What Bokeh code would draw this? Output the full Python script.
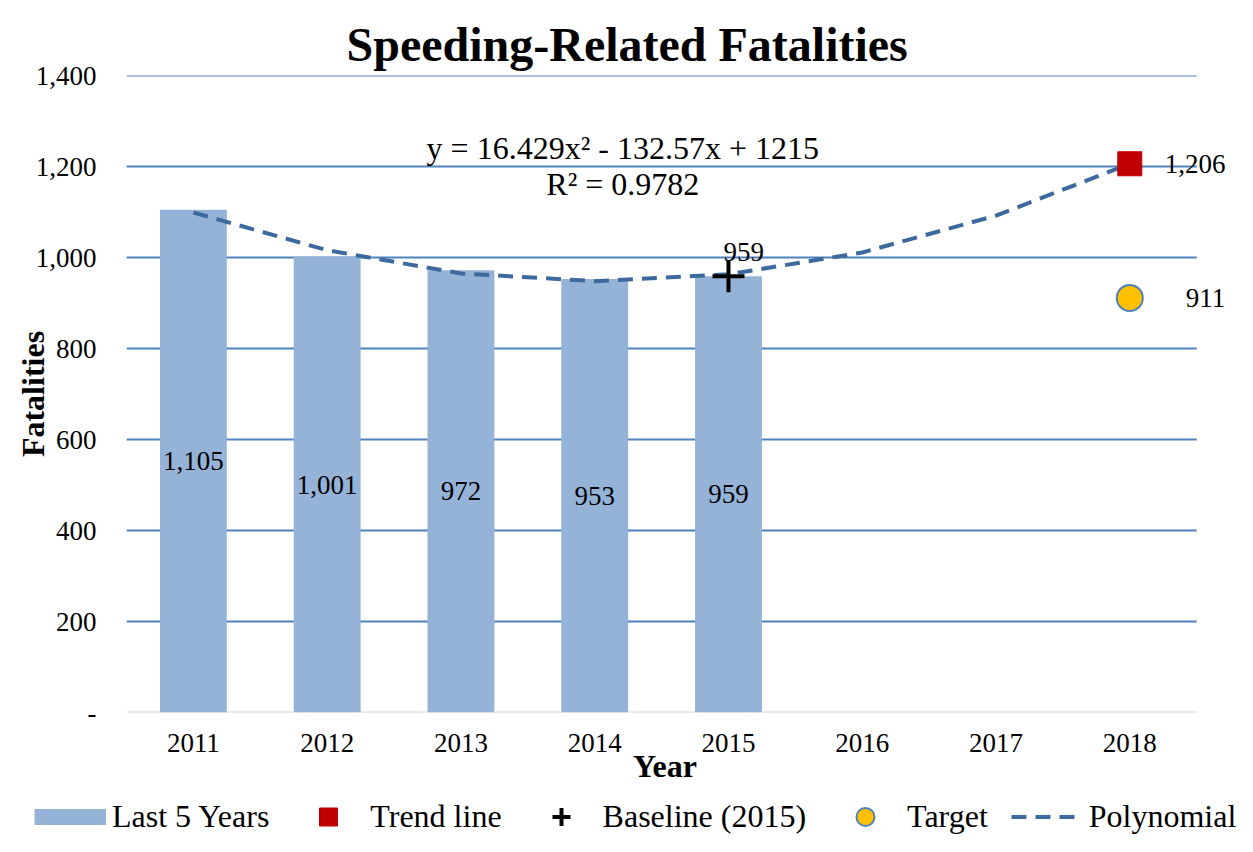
from bokeh.plotting import figure
from bokeh.layouts import column
from bokeh.models import (Range1d, FixedTicker, Legend, LegendItem, Label)
from bokeh.core.properties import value
from bokeh.embed import file_html
from bokeh.resources import INLINE

years = ["2011", "2012", "2013", "2014", "2015", "2016", "2017", "2018"]
bar_years = ["2011", "2012", "2013", "2014", "2015"]
fatalities = [1105, 1001, 972, 953, 959]
bar_labels = ["1,105", "1,001", "972", "953", "959"]
trend_year = ["2018"]
trend_value = [1206]
trend_label = ["1,206"]
baseline_year = ["2015"]
baseline_value = [959]
baseline_label = ["959"]
target_year = ["2018"]
target_value = [911]
target_label = ["911"]
poly_values = [1099, 1016, 965, 948, 963, 1011, 1092, 1206]
y_ticks = [0, 200, 400, 600, 800, 1000, 1200, 1400]
y_tick_labels = ["-", "200", "400", "600", "800", "1,000", "1,200", "1,400"]
legend_labels = ["Last 5 Years", "Trend line", "Baseline (2015)", "Target", "Polynomial"]
equation = "y = 16.429x\u00b2 - 132.57x + 1215"
r_squared = "R\u00b2 = 0.9782"

FONT = "Liberation Serif"
BAR = "#95B3D7"
GRID = "#4F81BD"
POLY = "#3D6A9E"
RED = "#C00000"
GOLD = "#FFC000"


def xpos(year):
    return years.index(year) + 0.5


x_all = [xpos(y) for y in years]
n_cat = len(years)

p = figure(x_range=Range1d(0, 8.35), y_range=Range1d(0, 1400),
           width=1244, height=793,
           output_backend="svg", toolbar_location=None,
           min_border_left=126, min_border_right=1, min_border_top=75, min_border_bottom=81)
p.frame_align = False

p.title.text = "Speeding-Related Fatalities"
p.title.text_font = FONT
p.title.text_font_size = "48px"
p.title.text_font_style = "bold"
p.title.text_color = "black"
p.title.align = "left"
p.title.offset = 220

p.outline_line_color = None
p.xgrid.grid_line_color = None
p.ygrid.grid_line_color = None

# horizontal grid lines across the category span only
grid_y = y_ticks[1:]
p.segment(x0=[0] * len(grid_y), x1=[n_cat] * len(grid_y), y0=grid_y, y1=grid_y,
          line_color=GRID, line_width=2)
# category axis line at zero
p.segment(x0=[0], x1=[n_cat], y0=[y_ticks[0]], y1=[y_ticks[0]],
          line_color="#D9D9D9", line_width=2)

p.yaxis.ticker = FixedTicker(ticks=y_ticks)
p.yaxis.major_label_overrides = {t: l for t, l in zip(y_ticks, y_tick_labels)}
p.yaxis.axis_line_color = None
p.yaxis.major_tick_line_color = None
p.yaxis.minor_tick_line_color = None
p.yaxis.major_label_standoff = 24
p.yaxis.axis_label = "Fatalities"
p.yaxis.axis_label_standoff = -18

p.xaxis.ticker = FixedTicker(ticks=x_all)
p.xaxis.major_label_overrides = {x: y for x, y in zip(x_all, years)}
p.xaxis.axis_line_color = None
p.xaxis.major_tick_line_color = None
p.xaxis.minor_tick_line_color = None
p.xaxis.major_label_standoff = 15
# trailing no-break spaces keep the title centred over the category span
p.xaxis.axis_label = "Year" + "\u00a0" * 5
p.xaxis.axis_label_standoff = -7

for ax in (p.xaxis[0], p.yaxis[0]):
    ax.major_label_text_font = FONT
    ax.major_label_text_font_size = "27px"
    ax.major_label_text_color = "black"
    ax.axis_label_text_font = FONT
    ax.axis_label_text_font_size = "32px"
    ax.axis_label_text_font_style = "bold"
    ax.axis_label_text_color = "black"

bar_x = [xpos(y) for y in bar_years]
p.vbar(x=bar_x, top=fatalities, width=0.5, fill_color=BAR, line_color=None)

p.text(x=bar_x, y=[v / 2 for v in fatalities], text=bar_labels,
       text_font=value(FONT), text_font_size="27px", text_align="center",
       text_baseline="middle", text_color="black")

p.line(x=x_all, y=poly_values, line_color=POLY, line_width=4, line_dash="15 9")

p.scatter(x=[xpos(y) for y in trend_year], y=trend_value, marker="square", size=24,
          fill_color=RED, line_color=RED)
p.scatter(x=[xpos(y) for y in baseline_year], y=baseline_value, marker="cross", size=32,
          line_color="black", line_width=4)
p.scatter(x=[xpos(y) for y in target_year], y=target_value, marker="circle", size=26,
          fill_color=GOLD, line_color=GRID, line_width=2)


def add_label(year, y, text, dx, dy):
    p.add_layout(Label(x=xpos(year), y=y, text=text, x_offset=dx, y_offset=dy,
                       text_font=FONT, text_font_size="27px", text_align="left",
                       text_baseline="middle", text_color="black"))


add_label(trend_year[0], trend_value[0], trend_label[0], 35, 0)
add_label(target_year[0], target_value[0], target_label[0], 56, 0)
add_label(baseline_year[0], baseline_value[0], baseline_label[0], -5, 24)

p.add_layout(Label(x=3.71, y=1241, text=equation, text_font=FONT, text_font_size="32px",
                   text_align="center", text_baseline="middle", text_color="black"))
p.add_layout(Label(x=3.71, y=1162, text=r_squared, text_font=FONT, text_font_size="32px",
                   text_align="center", text_baseline="middle", text_color="black"))

# legend strip below the chart (proxy renderers sit outside the visible range)
lf = figure(width=1244, height=46, x_range=Range1d(0, 1), y_range=Range1d(0, 1),
            output_backend="svg", toolbar_location=None,
            x_axis_location=None, y_axis_location=None,
            min_border_left=0, min_border_right=0, min_border_top=0, min_border_bottom=0)
lf.frame_align = False
lf.outline_line_color = None
lf.xgrid.visible = False
lf.ygrid.visible = False

off = dict(x=[-1], y=[-1])
r_bar = lf.line(**off, line_color=BAR, line_width=16)
r_trend = lf.scatter(**off, marker="square", fill_color=RED, line_color=RED)
r_base = lf.scatter(**off, marker="cross", line_color="black", line_width=4)
r_target = lf.scatter(**off, marker="circle", fill_color=GOLD, line_color=GRID, line_width=2)
r_poly = lf.line(**off, line_color=POLY, line_width=4, line_dash="15 9")

legend = Legend(items=[LegendItem(label=l, renderers=[r]) for l, r in
                       zip(legend_labels, [r_bar, r_trend, r_base, r_target, r_poly])],
                orientation="horizontal", location=(34, 0))
legend.label_text_font = FONT
legend.label_text_font_size = "32px"
legend.label_text_color = "black"
legend.border_line_color = None
legend.background_fill_alpha = 0
legend.padding = 0
legend.margin = 0
legend.label_standoff = 6
legend.glyph_width = 72
legend.glyph_height = 45
legend.spacing = 23
lf.add_layout(legend)

layout = column(p, lf)

open("out.html", "w").write(file_html(layout, INLINE))
